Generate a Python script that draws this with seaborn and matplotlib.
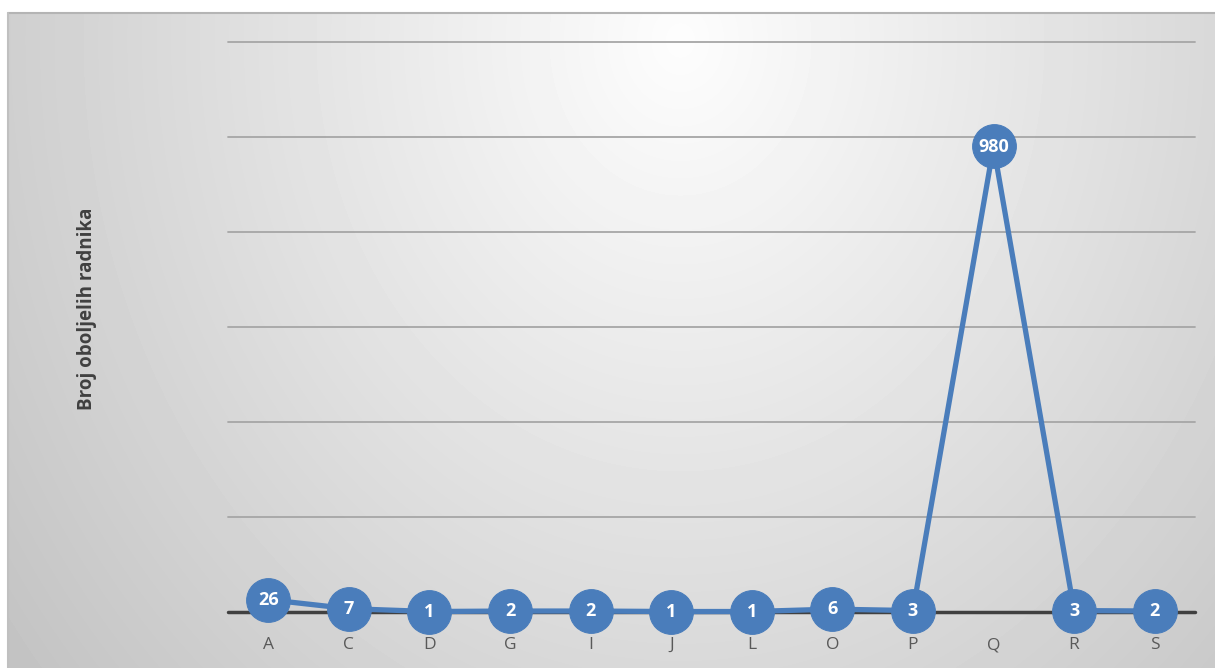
import numpy as np
import matplotlib
matplotlib.use("Agg")
import matplotlib.pyplot as plt
import seaborn as sns

categories = ["A", "C", "D", "G", "I", "J", "L", "O", "P", "Q", "R", "S"]
values = [26, 7, 1, 2, 2, 1, 1, 6, 3, 980, 3, 2]
y_label = "Broj oboljelih radnika"
grid_values = [200, 400, 600, 800, 1000, 1200]

sns.set_theme(style="white")
plt.rcParams["font.family"] = ["Open Sans", "DejaVu Sans"]

W, H = 1215, 668
fig = plt.figure(figsize=(W / 100, H / 100), dpi=100)
fig.patch.set_facecolor("white")

# background gradient panel
bg = fig.add_axes([8 / W, 0, (W - 8) / W, (H - 13) / H], zorder=0)
yy, xx = np.mgrid[0:H - 13, 0:W - 8]
xx = xx + 8
yy = yy + 13
d = np.sqrt(((xx - 680) / 760.0) ** 2 + ((yy - 40) / 900.0) ** 2)
val = np.clip(253 - 52 * d, 196, 255) / 255.0
bg.imshow(val, cmap="gray", vmin=0, vmax=1, aspect="auto", interpolation="bilinear")
bg.set_axis_off()
fig.add_artist(plt.Line2D([8 / W, 1], [1 - 13 / H, 1 - 13 / H], color="#b4b4b4", lw=1.5, transform=fig.transFigure))
fig.add_artist(plt.Line2D([8 / W, 8 / W], [0, 1 - 13 / H], color="#c0c0c0", lw=1.5, transform=fig.transFigure))

ax = fig.add_axes([228 / W, 1 - 612 / H, 967 / W, (612 - 42) / H], zorder=1)
ax.patch.set_alpha(0)

for g in grid_values:
    ax.axhline(g, color="#a6a6a6", lw=1.3, zorder=1)
ax.axhline(0, color="#404040", lw=2.5, zorder=1)

color = "#4A7DBB"
sns.lineplot(x=categories, y=values, sort=False, ax=ax, color=color, lw=3.8,
             marker="o", markersize=31.5, markeredgecolor=color, zorder=3)
for ln in ax.lines:
    ln.set_clip_on(False)

for c, v in zip(categories, values):
    ax.text(c, v, str(v), ha="center", va="center", color="white",
            fontsize=13, fontweight="bold", zorder=4)

ax.set_xlim(-0.5, len(categories) - 0.5)
ax.set_ylim(0, 1200)
ax.set_yticks([])
for s in ax.spines.values():
    s.set_visible(False)
ax.tick_params(axis="x", length=0, pad=18, labelsize=12.5, labelcolor="#595959")
ax.set_xlabel("")
ax.set_ylabel(y_label, fontsize=13.5, fontweight="bold", color="#404040")
ax.yaxis.set_label_coords((97 - 228) / 967, 0.532)

fig.savefig("out.png", dpi=100, facecolor="white")
